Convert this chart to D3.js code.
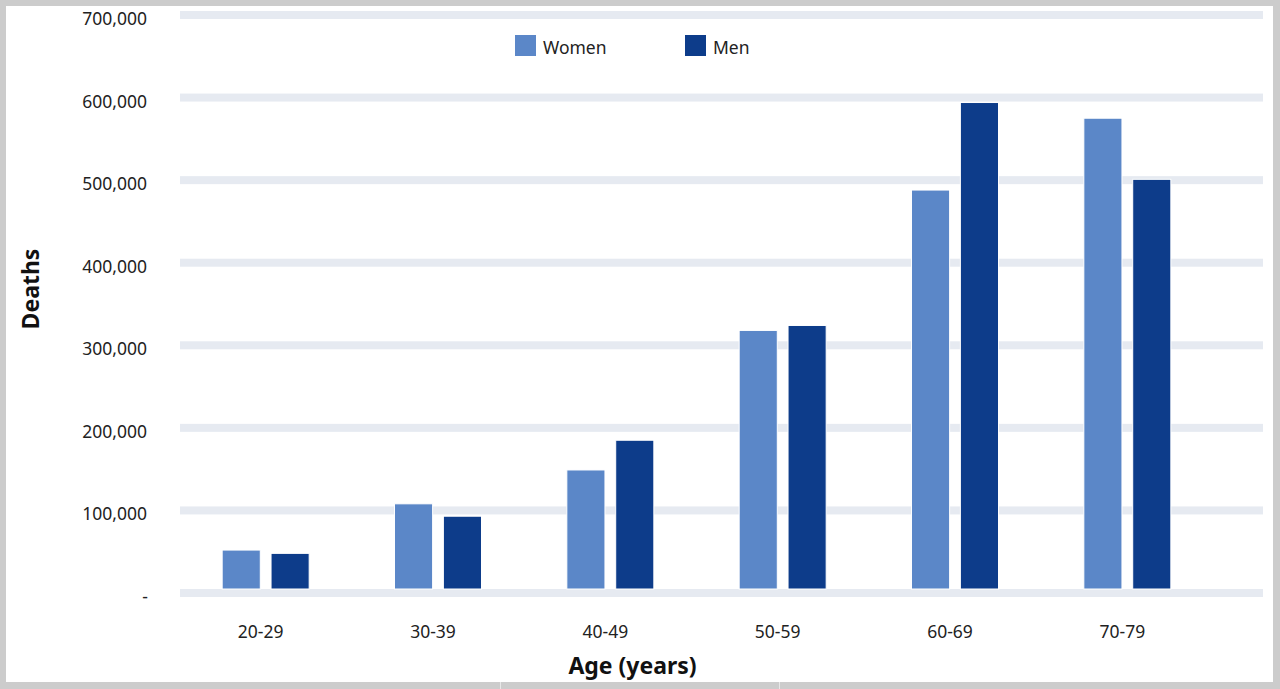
<!DOCTYPE html>
<html>
<head>
<meta charset="utf-8">
<script src="https://cdn.jsdelivr.net/npm/d3@7"></script>
<style>
  html, body { margin: 0; padding: 0; background: #cccccc; }
  svg { display: block; }
  text { font-family: "Noto Sans", "Open Sans", sans-serif; }
</style>
</head>
<body>
<svg id="chart" width="1280" height="689"></svg>
<script>
const categories = ["20-29", "30-39", "40-49", "50-59", "60-69", "70-79"];
const seriesNames = ["Women", "Men"];
const women = [52000, 108000, 149000, 318000, 488000, 575000];
const men = [48000, 93000, 185000, 324000, 594000, 501000];
const yTicks = [0, 100000, 200000, 300000, 400000, 500000, 600000, 700000];
const colors = ["#5b87c8", "#0d3c8a"];

const svg = d3.select("#chart");
// white panel
svg.append("rect").attr("x", 6).attr("y", 6).attr("width", 1267).attr("height", 676).attr("fill", "#ffffff");
// faint page separators at bottom
svg.append("rect").attr("x", 500).attr("y", 682).attr("width", 1).attr("height", 7).attr("fill", "#e8e8e8");
svg.append("rect").attr("x", 779).attr("y", 682).attr("width", 1).attr("height", 7).attr("fill", "#e8e8e8");

const y = d3.scaleLinear().domain([0, 700000]).range([593, 15]);
const x0 = d3.scaleBand().domain(categories).range([179.5, 1213.5]).paddingInner(0).paddingOuter(0);
const x1 = d3.scaleBand().domain(seriesNames).range([x0.bandwidth() / 2 - 43.5, x0.bandwidth() / 2 + 43.5]).paddingInner(0.22);

// gridline bands
svg.append("g").selectAll("rect").data(yTicks).join("rect")
  .attr("x", 180).attr("width", 1083)
  .attr("y", d => y(d) - 4).attr("height", 8)
  .attr("fill", "#e6eaf1");

// y tick labels
const fmt = d => d === 0 ? "-" : d3.format(",")(d);
svg.append("g").selectAll("text").data(yTicks).join("text")
  .attr("x", d => d === 0 ? 148 : 147).attr("y", d => y(d) + 10)
  .attr("text-anchor", "end")
  .attr("font-size", 17.5).attr("fill", "#222")
  .text(fmt);

// bars
const data = categories.map((c, i) => ({ cat: c, vals: [women[i], men[i]] }));
const groups = svg.append("g").selectAll("g").data(data).join("g")
  .attr("transform", d => `translate(${x0(d.cat)},0)`);
groups.selectAll("rect").data(d => d.vals.map((v, j) => ({ name: seriesNames[j], v, j })))
  .join("rect")
  .attr("x", d => x1(d.name))
  .attr("width", x1.bandwidth())
  .attr("y", d => y(d.v))
  .attr("height", d => y(0) - 4 - y(d.v))
  .attr("fill", d => colors[d.j])
  .attr("stroke", "#ffffff").attr("stroke-width", 1);

// x labels
svg.append("g").selectAll("text").data(categories).join("text")
  .attr("x", d => x0(d) + x0.bandwidth() / 2 - 5)
  .attr("y", 638)
  .attr("text-anchor", "middle")
  .attr("font-size", 17.5).attr("fill", "#222")
  .text(d => d);

// axis titles
svg.append("text").attr("x", 632.5).attr("y", 674).attr("text-anchor", "middle")
  .attr("font-size", 23).attr("font-weight", "bold").attr("fill", "#111").text("Age (years)");
svg.append("text").attr("transform", "translate(39,289) rotate(-90)").attr("text-anchor", "middle")
  .attr("font-size", 23).attr("font-weight", "bold").attr("fill", "#111").text("Deaths");

// legend
const legendX = [515, 685];
const lg = svg.append("g").selectAll("g").data(seriesNames).join("g")
  .attr("transform", (d, i) => `translate(${legendX[i]},35)`);
lg.append("rect").attr("width", 21).attr("height", 21).attr("fill", (d, i) => colors[i]);
lg.append("text").attr("x", 28).attr("y", 19).attr("font-size", 17.5).attr("fill", "#222").text(d => d);
</script>
</body>
</html>
